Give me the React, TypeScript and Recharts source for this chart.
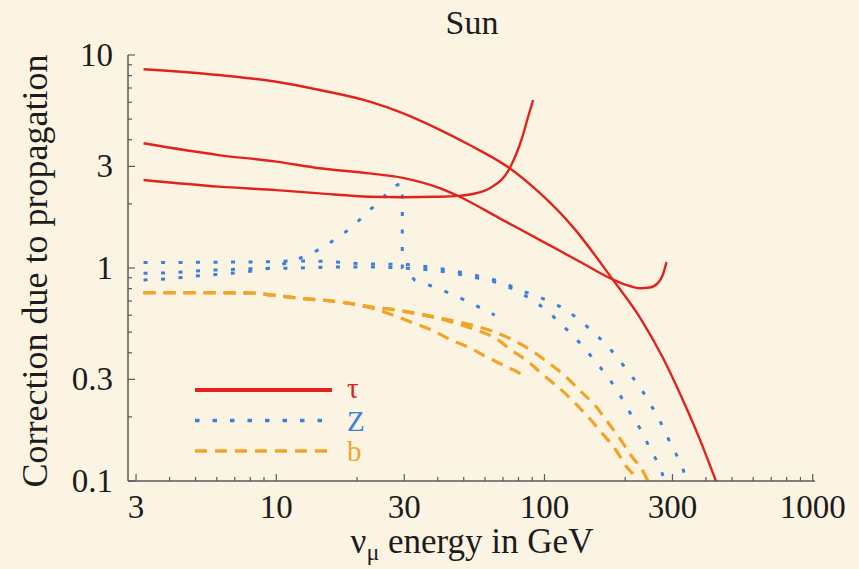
import React from 'react';
import { LineChart, Line, XAxis, YAxis } from 'recharts';

// ---- data (energy E in GeV, correction C) ----
const tauHeavy = [
  { e: 3.2, c: 8.57 }, { e: 6.1, c: 8.05 }, { e: 10, c: 7.49 }, { e: 14.5, c: 6.85 },
  { e: 22.3, c: 6.04 }, { e: 29.6, c: 5.34 }, { e: 39.5, c: 4.54 }, { e: 52.6, c: 3.78 },
  { e: 74.2, c: 2.94 }, { e: 96, c: 2.25 }, { e: 127.5, c: 1.56 }, { e: 180, c: 0.88 },
  { e: 227, c: 0.585 }, { e: 276, c: 0.38 }, { e: 328, c: 0.24 }, { e: 380, c: 0.156 },
  { e: 432, c: 0.103 }, { e: 440, c: 0.097 },
];
const tauMid = [
  { e: 3.2, c: 3.85 }, { e: 6.1, c: 3.39 }, { e: 10, c: 3.16 }, { e: 14.5, c: 2.94 },
  { e: 22.3, c: 2.78 }, { e: 29.6, c: 2.65 }, { e: 40.7, c: 2.37 }, { e: 48.3, c: 2.16 },
  { e: 68.1, c: 1.71 }, { e: 98.6, c: 1.33 }, { e: 135.5, c: 1.07 }, { e: 180, c: 0.883 },
  { e: 208, c: 0.823 }, { e: 227, c: 0.804 }, { e: 247, c: 0.81 }, { e: 265, c: 0.851 },
  { e: 276, c: 0.927 }, { e: 285, c: 1.066 },
];
const tauLight = [
  { e: 3.2, c: 2.59 }, { e: 6.1, c: 2.41 }, { e: 10, c: 2.32 }, { e: 14.5, c: 2.24 },
  { e: 22.3, c: 2.16 }, { e: 29.6, c: 2.15 }, { e: 39.5, c: 2.16 }, { e: 47.5, c: 2.18 },
  { e: 54, c: 2.225 }, { e: 62.5, c: 2.37 }, { e: 74.2, c: 2.94 }, { e: 82, c: 3.99 },
  { e: 86.9, c: 5.13 }, { e: 90.7, c: 6.15 },
];
const zHeavy = [
  { e: 3.2, c: 1.06 }, { e: 6, c: 1.065 }, { e: 9.1, c: 1.07 }, { e: 12.2, c: 1.08 },
  { e: 16.2, c: 1.07 }, { e: 21.9, c: 1.045 }, { e: 29.6, c: 1.04 }, { e: 40, c: 0.997 },
  { e: 53.4, c: 0.933 }, { e: 71, c: 0.847 }, { e: 81, c: 0.788 }, { e: 93.3, c: 0.739 },
  { e: 108, c: 0.683 }, { e: 123, c: 0.624 }, { e: 137, c: 0.56 }, { e: 154, c: 0.493 },
  { e: 170, c: 0.435 }, { e: 188, c: 0.377 }, { e: 205, c: 0.326 }, { e: 225, c: 0.28 },
  { e: 244, c: 0.238 }, { e: 262, c: 0.204 }, { e: 281, c: 0.172 }, { e: 298, c: 0.146 },
  { e: 320, c: 0.123 }, { e: 329, c: 0.113 }, { e: 337, c: 0.1 },
];
const zMid = [
  { e: 3.2, c: 0.944 }, { e: 4, c: 0.95 }, { e: 5, c: 0.968 }, { e: 6.8, c: 0.985 },
  { e: 9, c: 0.995 }, { e: 12, c: 1.0 }, { e: 17, c: 1.01 }, { e: 22, c: 1.01 },
  { e: 29.6, c: 1.0 }, { e: 40, c: 0.97 }, { e: 53.4, c: 0.91 }, { e: 71, c: 0.83 },
  { e: 81, c: 0.765 }, { e: 92, c: 0.695 }, { e: 103, c: 0.624 }, { e: 114, c: 0.553 },
  { e: 128, c: 0.48 }, { e: 141, c: 0.42 }, { e: 155, c: 0.363 }, { e: 170, c: 0.315 },
  { e: 185, c: 0.27 }, { e: 200, c: 0.23 }, { e: 214, c: 0.197 }, { e: 233, c: 0.167 },
  { e: 247, c: 0.142 }, { e: 266, c: 0.12 }, { e: 273, c: 0.111 }, { e: 280, c: 0.1 },
];
const zLight = [
  { e: 3.2, c: 0.879 }, { e: 4, c: 0.89 }, { e: 5, c: 0.917 }, { e: 6.8, c: 0.944 },
  { e: 8.5, c: 0.975 }, { e: 9.5, c: 1.0 }, { e: 11, c: 1.06 }, { e: 12.2, c: 1.11 },
  { e: 13.9, c: 1.19 }, { e: 15.8, c: 1.31 }, { e: 17.7, c: 1.44 }, { e: 19.9, c: 1.63 },
  { e: 22, c: 1.84 }, { e: 24.7, c: 2.1 }, { e: 27.2, c: 2.41 }, { e: 28.9, c: 2.48 },
  { e: 29.5, c: 2.48 }, { e: 29.5, c: 1.0 }, { e: 32.8, c: 0.879 }, { e: 37.9, c: 0.823 },
  { e: 43.7, c: 0.766 }, { e: 49.7, c: 0.713 }, { e: 56.5, c: 0.658 }, { e: 65.2, c: 0.601 },
];
const bHeavy = [
  { e: 3.2, c: 0.766 }, { e: 5, c: 0.766 }, { e: 8, c: 0.763 }, { e: 9.6, c: 0.747 },
  { e: 11.4, c: 0.728 }, { e: 13.5, c: 0.713 }, { e: 16, c: 0.7 }, { e: 19.3, c: 0.678 },
  { e: 22.9, c: 0.654 }, { e: 27.2, c: 0.64 }, { e: 32.3, c: 0.617 }, { e: 39, c: 0.59 },
  { e: 45.6, c: 0.565 }, { e: 55, c: 0.535 }, { e: 65.3, c: 0.5 }, { e: 76.4, c: 0.459 },
  { e: 90.7, c: 0.405 }, { e: 105, c: 0.354 }, { e: 121, c: 0.306 }, { e: 135, c: 0.267 },
  { e: 154, c: 0.227 }, { e: 171, c: 0.191 }, { e: 191, c: 0.158 }, { e: 211, c: 0.131 },
  { e: 233, c: 0.111 }, { e: 243, c: 0.1 },
];
const bMid = [
  { e: 3.2, c: 0.766 }, { e: 5, c: 0.766 }, { e: 8, c: 0.763 }, { e: 9.6, c: 0.747 },
  { e: 11.4, c: 0.728 }, { e: 13.5, c: 0.713 }, { e: 16, c: 0.7 }, { e: 19.3, c: 0.678 },
  { e: 22.9, c: 0.654 }, { e: 27.2, c: 0.638 }, { e: 32.3, c: 0.614 }, { e: 39, c: 0.585 },
  { e: 45.6, c: 0.555 }, { e: 55, c: 0.515 }, { e: 65.3, c: 0.47 }, { e: 75.3, c: 0.412 },
  { e: 86.9, c: 0.363 }, { e: 98.8, c: 0.315 }, { e: 114, c: 0.272 }, { e: 130, c: 0.232 },
  { e: 147, c: 0.197 }, { e: 163, c: 0.169 }, { e: 183, c: 0.142 }, { e: 202, c: 0.117 },
  { e: 217, c: 0.105 }, { e: 222, c: 0.1 },
];
const bLight = [
  { e: 3.2, c: 0.766 }, { e: 5, c: 0.766 }, { e: 8, c: 0.763 }, { e: 9.6, c: 0.747 },
  { e: 11.4, c: 0.728 }, { e: 13.5, c: 0.713 }, { e: 16, c: 0.7 }, { e: 19.3, c: 0.678 },
  { e: 23, c: 0.645 }, { e: 27.2, c: 0.601 }, { e: 32.3, c: 0.553 }, { e: 37.9, c: 0.512 },
  { e: 44.3, c: 0.463 }, { e: 51.9, c: 0.425 }, { e: 60.7, c: 0.383 }, { e: 71, c: 0.347 },
  { e: 80.9, c: 0.32 }, { e: 84.4, c: 0.307 },
];

// ---- ticks ----
const xTicks = [3, 4, 5, 6, 7, 8, 9, 10, 20, 30, 40, 50, 60, 70, 80, 90, 100, 200, 300, 400, 500, 600, 700, 800, 900, 1000];
const xLabels = [3, 10, 30, 100, 300, 1000];
const yTicks = [0.1, 0.2, 0.3, 0.4, 0.5, 0.6, 0.7, 0.8, 0.9, 1, 2, 3, 4, 5, 6, 7, 8, 9, 10];
const yLabels = [0.1, 0.3, 1, 3, 10];

const legendItems = [
  { label: 'τ', color: '#E0231C', dash: undefined, width: 4 },
  { label: 'Z', color: '#3A80DC', dash: '4.5 13', width: 3.5 },
  { label: 'b', color: '#F0A52A', dash: '12 8', width: 3.5 },
];

// ---- layout ----
const W = 859;
const H = 569;
const LEFT = 128;
const TOP = 55;
const RIGHT = 815;
const BOTTOM = 481;
const FONT = 'Liberation Serif, DejaVu Serif, serif';
const TEXT = '#1c1c1c';
const FRAME = '#5a5a5a';
const BG = '#FCF4E2';

const RED = '#E0231C';
const BLUE = '#3A80DC';
const ORANGE = '#F0A52A';

const fmt = (v: number) => String(v);

const BottomTick = (props: any) => {
  const { x, payload } = props;
  const v = payload.value;
  const major = xLabels.includes(v);
  return (
    <g>
      <line x1={x} x2={x} y1={BOTTOM} y2={BOTTOM - (major ? 7 : 4)} stroke={FRAME} strokeWidth={1.2} />
      {major && (
        <text x={x} y={518} textAnchor="middle" style={{ fontFamily: FONT }} fontSize={33} fill={TEXT}>
          {fmt(v)}
        </text>
      )}
    </g>
  );
};
const TopTick = (props: any) => {
  const { x, payload } = props;
  const major = xLabels.includes(payload.value);
  return <line x1={x} x2={x} y1={TOP} y2={TOP + (major ? 7 : 4)} stroke={FRAME} strokeWidth={1.2} />;
};
const LeftTick = (props: any) => {
  const { y, payload } = props;
  const v = payload.value;
  const major = yLabels.includes(v);
  return (
    <g>
      <line x1={LEFT} x2={LEFT + (major ? 7 : 4)} y1={y} y2={y} stroke={FRAME} strokeWidth={1.2} />
      {major && (
        <text x={113} y={y + 11} textAnchor="end" style={{ fontFamily: FONT }} fontSize={33} fill={TEXT}>
          {fmt(v)}
        </text>
      )}
    </g>
  );
};
const RightTick = (props: any) => {
  const { y, payload } = props;
  const major = yLabels.includes(payload.value);
  return <line x1={RIGHT} x2={RIGHT - (major ? 7 : 4)} y1={y} y2={y} stroke={FRAME} strokeWidth={1.2} />;
};

const series = [
  { data: bHeavy, color: ORANGE, dash: '12 8', w: 3.2, type: 'monotone' },
  { data: bMid, color: ORANGE, dash: '12 8', w: 3.2, type: 'monotone' },
  { data: bLight, color: ORANGE, dash: '12 8', w: 3.2, type: 'monotone' },
  { data: zHeavy, color: BLUE, dash: '4 13.5', w: 3, type: 'monotone' },
  { data: zMid, color: BLUE, dash: '4 13.5', w: 3, type: 'monotone' },
  { data: zLight, color: BLUE, dash: '4 13.5', w: 3, type: 'linear' },
  { data: tauHeavy, color: RED, dash: undefined, w: 2.4, type: 'monotone' },
  { data: tauMid, color: RED, dash: undefined, w: 2.4, type: 'monotone' },
  { data: tauLight, color: RED, dash: undefined, w: 2.4, type: 'monotone' },
];

export default function App() {
  return (
    <div style={{ position: 'absolute', left: 0, top: 0, width: W, height: H, background: BG, overflow: 'hidden', fontFamily: FONT }}>
      <LineChart
        width={W}
        height={H}
        margin={{ top: TOP, right: W - RIGHT, bottom: H - BOTTOM - 60, left: 0 }}
      >
        <XAxis
          dataKey="e"
          type="number"
          scale="log"
          domain={[2.8, 1020]}
          allowDataOverflow
          ticks={xTicks}
          interval={0}
          height={60}
          tickLine={false}
          axisLine={{ stroke: FRAME, strokeWidth: 1.5 }}
          tick={<BottomTick />}
        />
        <XAxis
          xAxisId="top"
          orientation="top"
          dataKey="e"
          type="number"
          scale="log"
          domain={[2.8, 1020]}
          allowDataOverflow
          ticks={xTicks}
          interval={0}
          height={0}
          tickLine={false}
          axisLine={{ stroke: FRAME, strokeWidth: 1.5 }}
          tick={<TopTick />}
        />
        <YAxis
          type="number"
          scale="log"
          domain={[0.1, 10]}
          allowDataOverflow
          ticks={yTicks}
          interval={0}
          width={LEFT}
          tickLine={false}
          axisLine={{ stroke: FRAME, strokeWidth: 1.5 }}
          tick={<LeftTick />}
        />
        <YAxis
          yAxisId="right"
          orientation="right"
          type="number"
          scale="log"
          domain={[0.1, 10]}
          allowDataOverflow
          ticks={yTicks}
          interval={0}
          width={0}
          tickLine={false}
          axisLine={{ stroke: '#8f8f8f', strokeWidth: 3.5 }}
          tick={<RightTick />}
        />
        {series.map((s, i) => (
          <Line
            key={i}
            data={s.data}
            dataKey="c"
            type={s.type as any}
            stroke={s.color}
            strokeWidth={s.w}
            strokeDasharray={s.dash}
            dot={false}
            activeDot={false}
            legendType="none"
            isAnimationActive={false}
          />
        ))}
      </LineChart>
      <svg
        width={W}
        height={H}
        style={{ position: 'absolute', left: 0, top: 0, pointerEvents: 'none', fontFamily: FONT }}
      >
        <text x={472} y={34} textAnchor="middle" fontSize={34} fill={TEXT}>
          Sun
        </text>
        <text
          transform="translate(47,271) rotate(-90)"
          textAnchor="middle"
          fontSize={36}
          fill={TEXT}
        >
          Correction due to propagation
        </text>
        <text x={472} y={553} textAnchor="middle" fontSize={35} fill={TEXT}>
          <tspan>ν</tspan>
          <tspan dy={7} fontSize={24}>μ</tspan>
          <tspan dy={-7}> energy in GeV</tspan>
        </text>
        {legendItems.map((it, i) => (
          <g key={it.label}>
            <line
              x1={195}
              x2={332}
              y1={390 + i * 30.5}
              y2={390 + i * 30.5}
              stroke={it.color}
              strokeWidth={it.width}
              strokeDasharray={it.dash}
            />
            <text
              x={347}
              y={390 + i * 30.5 + (i === 0 ? 8 : 10)}
              fontSize={29}
              fill={it.color}
            >
              {it.label}
            </text>
          </g>
        ))}
      </svg>
    </div>
  );
}
